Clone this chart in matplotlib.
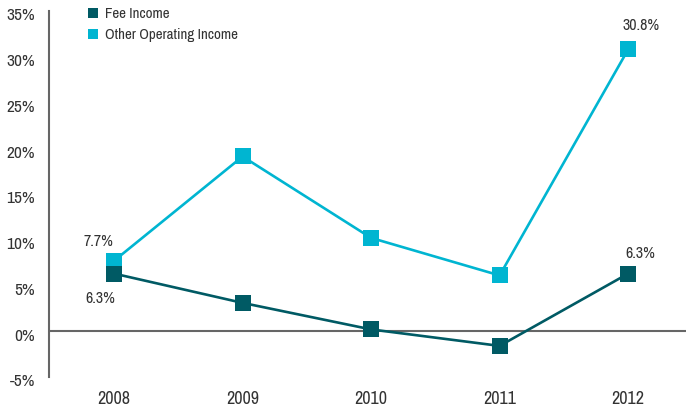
import matplotlib
matplotlib.use("Agg")
import matplotlib.pyplot as plt
from matplotlib import font_manager
from matplotlib.transforms import ScaledTranslation
from matplotlib.lines import Line2D

years = ["2008", "2009", "2010", "2011", "2012"]
fee_income = [6.3, 3.1, 0.2, -1.6, 6.3]
other_operating_income = [7.7, 19.1, 10.2, 6.1, 30.8]
y_ticks = [-5, 0, 5, 10, 15, 20, 25, 30, 35]

fee_color = "#005a64"
other_color = "#00b5d1"
text_color = "#333333"
axis_color = "#666666"

# pick a narrow sans face
available = {f.name for f in font_manager.fontManager.ttflist}
preferred = ["Archivo Narrow", "Roboto Condensed", "Liberation Sans Narrow",
             "PT Sans Narrow", "Barlow Semi Condensed", "Liberation Sans"]
family = next((n for n in preferred if n in available), "DejaVu Sans")
plt.rcParams["font.family"] = [family, "DejaVu Sans"]

fig = plt.figure(figsize=(6.86, 4.07), dpi=100)
ax = fig.add_axes([49 / 686, 1 - 377 / 407, 637 / 686, 366 / 407])

x = list(range(len(years)))
ax.plot(x, other_operating_income, color=other_color, lw=1.9, marker="s",
        markersize=11.5, markeredgewidth=0, zorder=3)
ax.plot(x, fee_income, color=fee_color, lw=1.9, marker="s",
        markersize=11.5, markeredgewidth=0, zorder=4)

ax.set_xlim(-0.506, 4.45)
ax.set_ylim(-5, 35)
ax.set_xticks(x)
ax.set_xticklabels(years)
ax.set_yticks(y_ticks)
ax.set_yticklabels([f"{v}%" for v in y_ticks])
ax.tick_params(axis="both", length=0, labelsize=12.5, colors=text_color)
ax.tick_params(axis="x", labelsize=13, pad=10)
ax.tick_params(axis="y", pad=10)
shift_down = ScaledTranslation(0, -2.5 / 72, fig.dpi_scale_trans)
for t in ax.get_yticklabels():
    t.set_transform(t.get_transform() + shift_down)

for side in ("top", "right", "bottom"):
    ax.spines[side].set_visible(False)
ax.spines["left"].set_color(axis_color)
ax.spines["left"].set_linewidth(1.5)
ax.axhline(0, color=axis_color, lw=1.5, zorder=2)

lab = dict(fontsize=11.5, color=text_color, ha="center", va="center")
ax.annotate(f"{other_operating_income[0]}%", (0, other_operating_income[0]),
            xytext=(-11, 14), textcoords="offset points", **lab)
ax.annotate(f"{fee_income[0]}%", (0, fee_income[0]),
            xytext=(-10, -18), textcoords="offset points", **lab)
ax.annotate(f"{fee_income[4]}%", (4, fee_income[4]),
            xytext=(9, 14.5), textcoords="offset points", **lab)
ax.annotate(f"{other_operating_income[4]}%", (4, other_operating_income[4]),
            xytext=(9, 17.5), textcoords="offset points", **lab)

handles = [
    Line2D([], [], ls="none", marker="s", markersize=6.5, color=fee_color, markeredgewidth=0),
    Line2D([], [], ls="none", marker="s", markersize=6.5, color=other_color, markeredgewidth=0),
]
leg = fig.legend(handles, ["Fee Income", "Other Operating Income"],
                 loc="upper left", bbox_to_anchor=(84 / 686, 1 - 4 / 407),
                 frameon=False, fontsize=10.8, handlelength=0.75, handletextpad=0.45,
                 labelspacing=0.45, borderaxespad=0, borderpad=0.2)
for t in leg.get_texts():
    t.set_color(text_color)

fig.savefig("out.png", dpi=100)
